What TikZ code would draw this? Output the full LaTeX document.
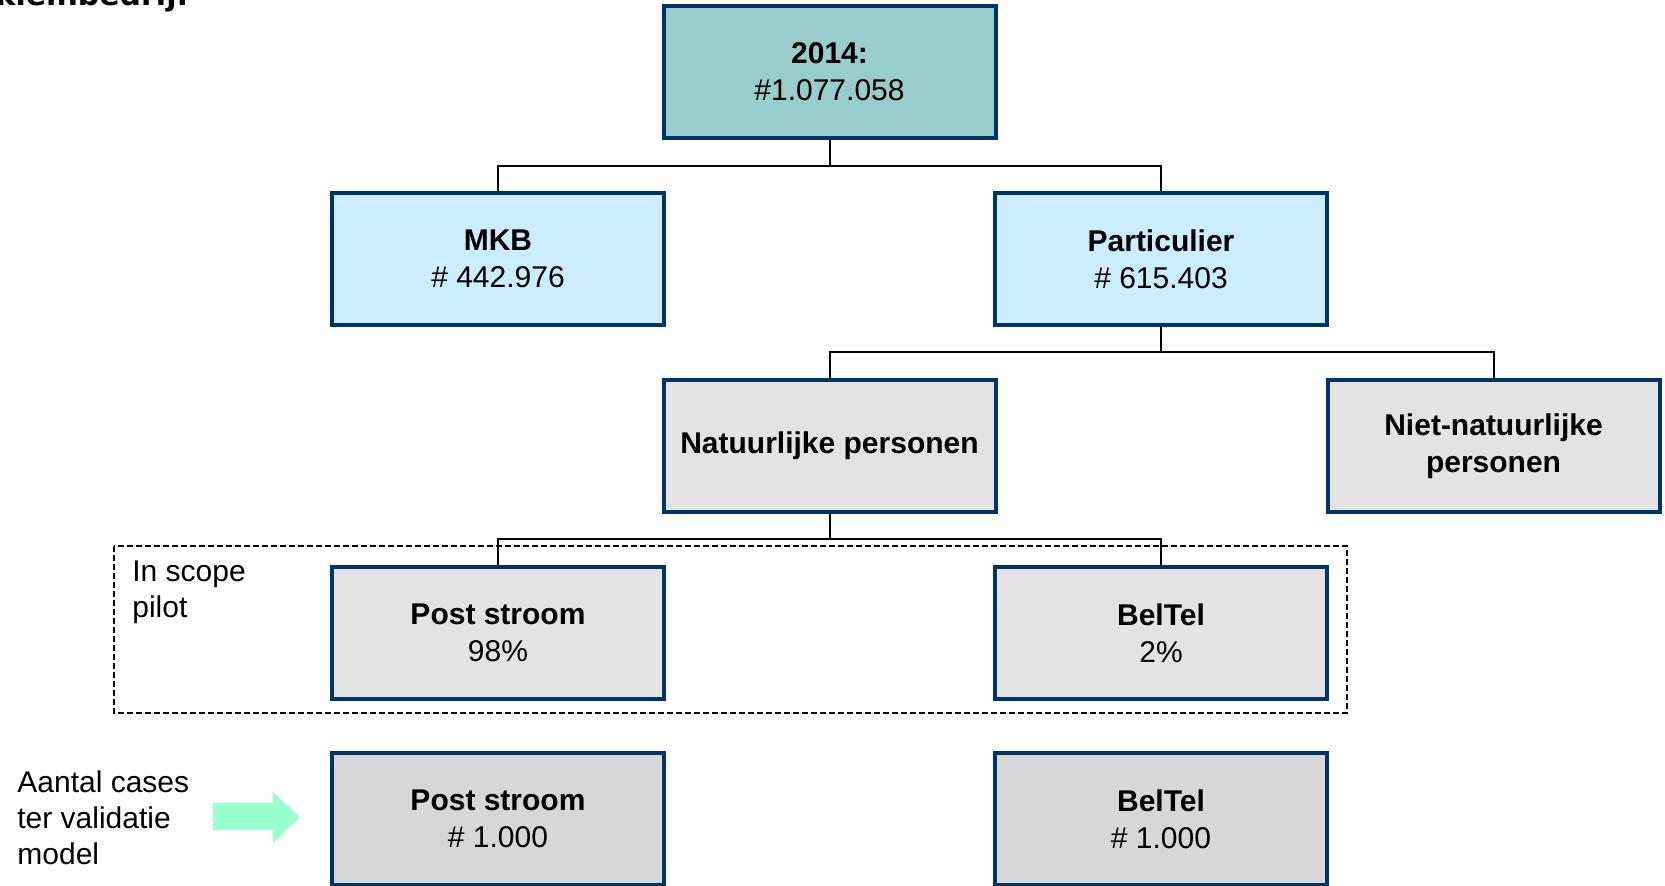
\documentclass[tikz,border=0pt]{standalone}
\usepackage{fontspec}
\setmainfont{Liberation Sans}
\newfontfamily\headfont{DejaVu Sans}
\usetikzlibrary{positioning}
\definecolor{boxborder}{HTML}{003366}
\definecolor{topfill}{HTML}{99CCCC}
\definecolor{bluefill}{HTML}{CCECFF}
\definecolor{greyfill}{HTML}{E3E3E3}
\definecolor{darkgreyfill}{HTML}{D7D7D7}
\definecolor{mint}{HTML}{99FFCC}
\tikzset{
    orgbox/.style={rectangle, draw=boxborder, line width=2pt, minimum width=166pt, minimum height=66pt, inner sep=0pt, align=center, font=\fontsize{15}{18.5}\selectfont},
    link/.style={draw=black, line width=1pt},
    sidetext/.style={anchor=north west, align=left, inner sep=0pt, font=\fontsize{15}{18}\selectfont}
}
\begin{document}
\begin{tikzpicture}[x=0.5pt, y=-0.5pt]
    \clip (0,0) rectangle (1665,886);
    \node(cutoff) [anchor=base east, inner sep=0pt, font=\headfont\bfseries\fontsize{15}{18}\selectfont] at (190,6) {kleinbedrijf};
    \node(total) [orgbox, fill=topfill] at (829.5,72) {\textbf{2014:}\\\#1.077.058};
    \node(mkb) [orgbox, fill=bluefill] at (498,259) {\textbf{MKB}\\\# 442.976};
    \node(particulier) [orgbox, fill=bluefill] at (1161,259) {\textbf{Particulier}\\\# 615.403};
    \node(natuurlijk) [orgbox, fill=greyfill] at (829.5,446) {\textbf{Natuurlijke personen}};
    \node(nietnatuurlijk) [orgbox, fill=greyfill] at (1493.5,446) {\textbf{Niet-natuurlijke}\\\textbf{personen}};
    \node(poststroom) [orgbox, fill=greyfill] at (498,633) {\textbf{Post stroom}\\98\%};
    \node(beltel) [orgbox, fill=greyfill] at (1161,633) {\textbf{BelTel}\\2\%};
    \node(poststroomcases) [orgbox, fill=darkgreyfill] at (498,819) {\textbf{Post stroom}\\\# 1.000};
    \node(beltelcases) [orgbox, fill=darkgreyfill] at (1161,819) {\textbf{BelTel}\\\# 1.000};
    \coordinate (split1) at (829.5,166);
    \coordinate (split2) at (1161,352.5);
    \coordinate (split3) at (829.5,539.5);
    \draw[link] (total.south) -- (split1) -| (mkb.north);
    \draw[link] (split1) -| (particulier.north);
    \draw[link] (particulier.south) -- (split2) -| (natuurlijk.north);
    \draw[link] (split2) -| (nietnatuurlijk.north);
    \draw[link] (natuurlijk.south) -- (split3) -| (poststroom.north);
    \draw[link] (split3) -| (beltel.north);
    \draw[line width=0.75pt, dash pattern=on 3pt off 1.5pt] (114,546) rectangle (1347,713);
    \node(scope) [sidetext] at (132,560) {In scope\\pilot};
    \node(cases) [sidetext] at (17,770) {Aantal cases\\ter validatie\\model};
    \fill[mint] (213,803) -- (273,803) -- (273,792) -- (300,817.5) -- (273,843) -- (273,830) -- (213,830) -- cycle;
\end{tikzpicture}
\end{document}
